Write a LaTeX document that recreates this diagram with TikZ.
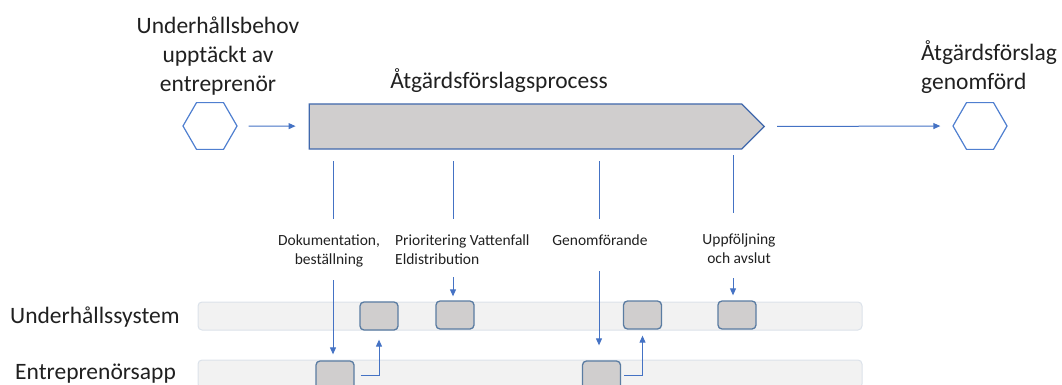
\documentclass[tikz,border=0pt]{standalone}
\usepackage{fontspec}
\setmainfont{Carlito}
\usetikzlibrary{shapes.geometric,shapes.symbols,arrows.meta}
\definecolor{arrblue}{HTML}{4472C4}
\definecolor{hexblue}{HTML}{4F7FD0}
\definecolor{barfill}{HTML}{D0CECE}
\definecolor{barline}{HTML}{4068AC}
\definecolor{taskline}{HTML}{5A7CA2}
\definecolor{lanefill}{HTML}{F2F2F2}
\definecolor{laneline}{HTML}{DCE2EA}
\definecolor{txt}{HTML}{202020}
\begin{document}
\begin{tikzpicture}[x=1pt,y=-1pt,
  big/.style={font=\fontsize{23.5}{29}\selectfont, text=txt, inner sep=0pt},
  small/.style={font=\fontsize{15.5}{19}\selectfont, text=txt, inner sep=0pt},
  hexa/.style={draw=hexblue, line width=1.2pt, regular polygon, regular polygon sides=6, minimum size=54pt, inner sep=0pt},
  arr/.style={draw=arrblue, line width=1pt, -{Triangle[length=7pt,width=6pt]}},
  tick/.style={draw=arrblue, line width=1pt},
  lane/.style={draw=laneline, fill=lanefill, line width=1pt, rounded corners=4pt, minimum width=664pt, minimum height=28pt, inner sep=0pt},
  task/.style={draw=taskline, fill=barfill, line width=1.3pt, rounded corners=4pt, minimum width=38pt, minimum height=28pt, inner sep=0pt},
  procbar/.style={signal, signal to=east, signal pointer angle=90, draw=barline, fill=barfill, line width=1.3pt, minimum width=455pt, minimum height=45pt, inner sep=0pt},
]
\useasboundingbox (0,0) rectangle (1062,385);

% top row
\node[hexa] (h1) at (210,126) {};
\node[procbar] (proc) at (525.5,126.5) {};
\node[hexa] (h2) at (980,126) {};
\draw[arr, shorten <=11pt, shorten >=13pt] (h1) -- (proc);
\draw[arr, shorten <=12pt, shorten >=12pt] (proc.east) -- (h2.west);

\node[big, align=center, anchor=base] (src) at (218,92) {Underhållsbehov\\upptäckt av\\entreprenör};
\node[big, anchor=base] (title) at (499,89) {Åtgärdsförslagsprocess};
\node[big, align=left, anchor=base west] (dst) at (921,90) {Åtgärdsförslag\\genomförd};

% lanes
\node[lane] (lane1) at (530,316) {};
\node[lane] (lane2) at (530,374) {};
\node[big, anchor=base west] (l1) at (10,323) {Underhållssystem};
\node[big, anchor=base west] (l2) at (15,379) {Entreprenörsapp};

% tasks
\node[task] (A) at (379,316) {};
\node[task] (B) at (455,315) {};
\node[task] (C) at (642.5,315) {};
\node[task] (D) at (737,315) {};
\node[task] (E) at (335,375) {};
\node[task] (F) at (601.5,375) {};

% step labels
\node[small, align=center, anchor=base] (dok) at (329,264) {Dokumentation,\\beställning};
\node[small, align=left, anchor=base west] (prio) at (395,264) {Prioritering Vattenfall\\Eldistribution};
\node[small, anchor=base] (gen) at (600,245) {Genomförande};
\node[small, align=center, anchor=base] (upp) at (739,263) {Uppföljning\\och avslut};

% ticks from process bar
\coordinate (t1a) at (333,161); \coordinate (t1b) at (333,219);
\coordinate (t2a) at (453,161); \coordinate (t2b) at (453,219);
\coordinate (t3a) at (599,161); \coordinate (t3b) at (599,219);
\coordinate (t4a) at (733,155); \coordinate (t4b) at (733,213);
\draw[tick] (t1a) -- (t1b);
\draw[tick] (t2a) -- (t2b);
\draw[tick] (t3a) -- (t3b);
\draw[tick] (t4a) -- (t4b);

% arrows to tasks
\coordinate (a1) at (333,280);
\coordinate (a2) at (453,277);
\coordinate (a3) at (599,271);
\coordinate (a4) at (733,278);
\draw[arr, shorten >=6pt] (a1) -- (a1 |- E.north);
\draw[arr, shorten >=4pt] (a2) -- (a2 |- B.north);
\draw[arr, shorten >=15pt] (a3) -- (a3 |- F.north);
\draw[arr, shorten >=5pt] (a4) -- (a4 |- D.north);
\draw[arr, shorten <=6pt, shorten >=9pt] (E.east) -| (A.south);
\draw[arr, shorten <=3pt, shorten >=6pt] (F.east) -| (C.south);
\end{tikzpicture}
\end{document}
